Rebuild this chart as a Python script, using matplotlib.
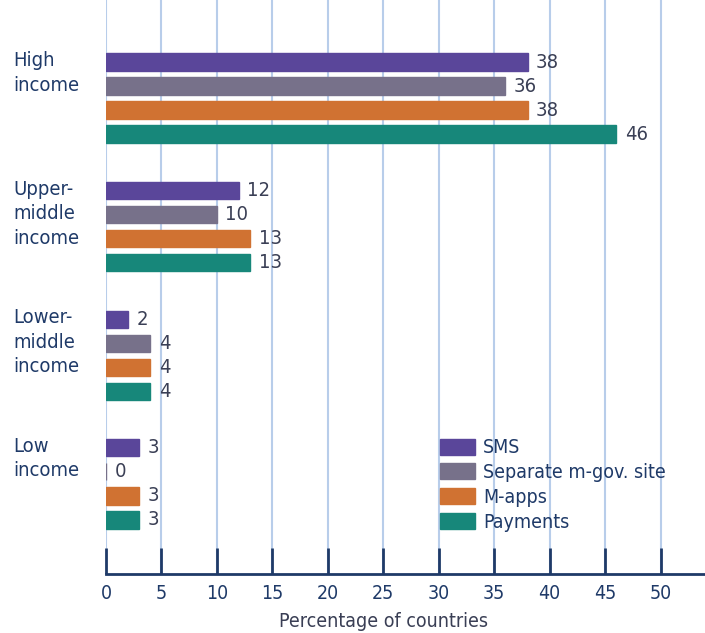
import matplotlib.pyplot as plt
import numpy as np

grupos = ['High\nincome', 'Upper-\nmiddle\nincome', 'Lower-\nmiddle\nincome', 'Low\nincome']
series = ['SMS', 'Separate m-gov. site', 'M-apps', 'Payments']
valores = [
    [38, 36, 38, 46],   # High income
    [12, 10, 13, 13],   # Upper-middle
    [2, 4, 4, 4],       # Lower-middle
    [3, 0, 3, 3],       # Low
]
cores = ['#5a469a', '#77718a', '#d07232', '#17877a']
ticks_x = [0, 5, 10, 15, 20, 25, 30, 35, 40, 45, 50]

navy = '#1f3a68'
texto = '#3a3f55'
plt.rcParams['font.family'] = ['DejaVu Sans']
plt.rcParams['font.stretch'] = 'condensed'

fig = plt.figure(figsize=(7.05, 6.33), dpi=100)
ax = fig.add_axes([106 / 705, 1 - 574 / 633, 1 - 106 / 705, 574 / 633])

passo_grupo = 5.35
for g, linha in enumerate(valores):
    for j, v in enumerate(linha):
        y = g * passo_grupo + j
        ax.barh(y, v, height=0.72, color=cores[j], edgecolor=cores[j], linewidth=1,
                label=series[j] if g == 0 else None, zorder=3)
        ax.text(v + 0.75, y, str(v), va='center', ha='left', fontsize=14.5, color=texto, zorder=4)
    # rótulo do grupo, alinhado com a primeira barra
    ax.text(-8.35, g * passo_grupo - 0.45, grupos[g], ha='left', va='top', fontsize=14.5,
            color=navy, linespacing=1.36)

ax.set_xlim(0, 54)
ax.set_ylim(3 * passo_grupo + 3 + 2.25, -2.58)
ax.set_xticks(ticks_x)
ax.set_yticks([])
ax.xaxis.grid(True, color='#b8cdea', linewidth=1.5, zorder=0)
for s in ['top', 'right', 'left']:
    ax.spines[s].set_visible(False)
ax.spines['bottom'].set_color(navy)
ax.spines['bottom'].set_linewidth(2)
ax.tick_params(axis='x', direction='in', length=19, width=2, color=navy,
               labelsize=14, labelcolor=navy, pad=7)

ax.text(25, 21.3 + 1.6, 'Percentage of countries', ha='center', va='top', fontsize=14,
        color=texto, clip_on=False)

ax.legend(loc='upper left', bbox_to_anchor=(0.545, 0.25), frameon=False, fontsize=14,
          handlelength=1.8, handleheight=0.9, handletextpad=0.4, labelspacing=0.3,
          labelcolor=navy, borderaxespad=0)

fig.savefig('out.png', dpi=100)
